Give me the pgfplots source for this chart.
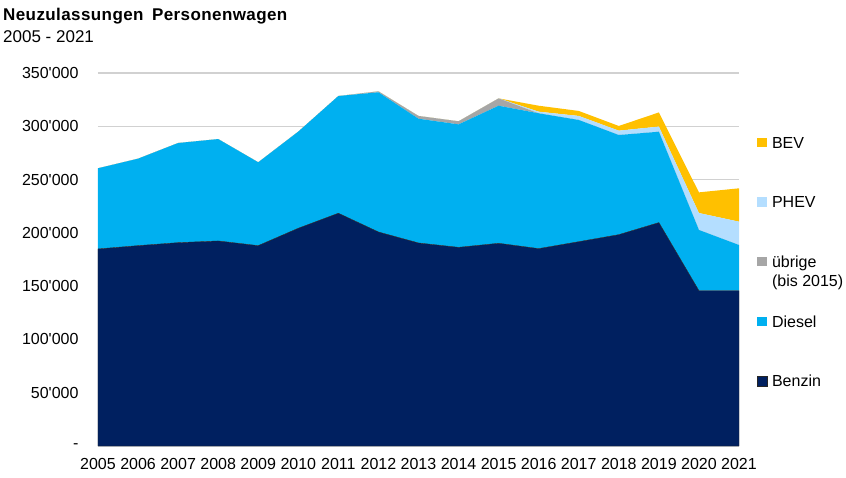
\documentclass[border=0pt]{standalone}
\usepackage{fontspec}
\setmainfont{Liberation Sans}
\usepackage{pgfplots}
\pgfplotsset{compat=1.18}
\usepackage{pgfplotstable}
\definecolor{benzin}{HTML}{002060}
\definecolor{diesel}{HTML}{00B0F0}
\definecolor{uebrige}{HTML}{A6A6A6}
\definecolor{phev}{HTML}{B4DEFF}
\definecolor{bev}{HTML}{FFC000}
\newcommand\ap{\textquotesingle}
\pgfplotstableread{
year benzin diesel uebrige phev bev
2005 184900 75700 0 0 0
2006 188000 81600 0 0 0
2007 190800 93500 0 0 0
2008 192400 95600 0 0 0
2009 188000 78200 0 0 0
2010 204300 90700 0 0 0
2011 218400 110000 0 0 0
2012 200800 131100 900 0 0
2013 190500 116600 2600 0 0
2014 186400 115400 2900 0 0
2015 190200 129100 6900 0 0
2016 185200 127000 0 1500 5600
2017 191700 114200 0 3800 4700
2018 198300 93500 0 4100 4400
2019 209600 85300 0 4800 13300
2020 145700 57000 0 15900 19400
2021 145700 42900 0 21900 31300
}\datatable
\begin{document}
\begin{tikzpicture}
\useasboundingbox (-98pt,-31pt) rectangle (748pt,446pt);
\begin{axis}[
  scale only axis, width=641pt, height=373pt,
  xmin=2005, xmax=2021, ymin=0, ymax=350000,
  stack plots=y,
  scaled y ticks=false,
  axis line style={draw=none}, major tick length=0pt,
  xtick={2005,2006,...,2021},
  xticklabels={2005,2006,2007,2008,2009,2010,2011,2012,2013,2014,2015,2016,2017,2018,2019,2020,2021},
  ytick={0,50000,100000,150000,200000,250000,300000,350000},
  yticklabels={-\hspace{10pt},50\ap000,100\ap000,150\ap000,200\ap000,250\ap000,300\ap000,350\ap000},
  ymajorgrids, grid style={color=black!18, line width=1.2pt},
  tick label style={font=\fontsize{16}{19}\selectfont},
  yticklabel style={xshift=-16pt},
  xticklabel style={yshift=-9pt},
  reverse legend,
  legend image code/.code={\fill[#1] (0pt,1pt) rectangle (9.5pt,10.5pt);},
  legend style={at={(1.028,0.837)}, anchor=north west, draw=none, fill=none,
    inner sep=0pt, font=\fontsize{16}{19}\selectfont,
    cells={anchor=base west, inner sep=0pt, text height=12pt, text depth=4pt},
    row sep=42.2pt, column sep=3pt},
]
\addplot[fill=benzin, draw=black!85, line width=0.4pt] table[x=year,y=benzin]{\datatable} \closedcycle;
\addlegendentry{Benzin}
\addplot[fill=diesel, draw=none] table[x=year,y=diesel]{\datatable} \closedcycle;
\addlegendentry{Diesel}
\addplot[fill=uebrige, draw=none] table[x=year,y=uebrige]{\datatable} \closedcycle;
\addlegendentry{\begin{tabular}[t]{@{}l@{}}übrige\\(bis 2015)\end{tabular}}
\addplot[fill=phev, draw=none] table[x=year,y=phev]{\datatable} \closedcycle;
\addlegendentry{PHEV}
\addplot[fill=bev, draw=none] table[x=year,y=bev]{\datatable} \closedcycle;
\addlegendentry{BEV}
\end{axis}
\node[anchor=base west, font=\fontsize{17}{20}\selectfont\bfseries\addfontfeature{LetterSpace=2.4}, inner sep=0pt] at (-95pt,425pt) {Neuzulassungen\hspace{0.5em}Personenwagen};
\node[anchor=base west, font=\fontsize{17}{20}\selectfont, inner sep=0pt] at (-95pt,403pt) {2005 - 2021};
\end{tikzpicture}
\end{document}
